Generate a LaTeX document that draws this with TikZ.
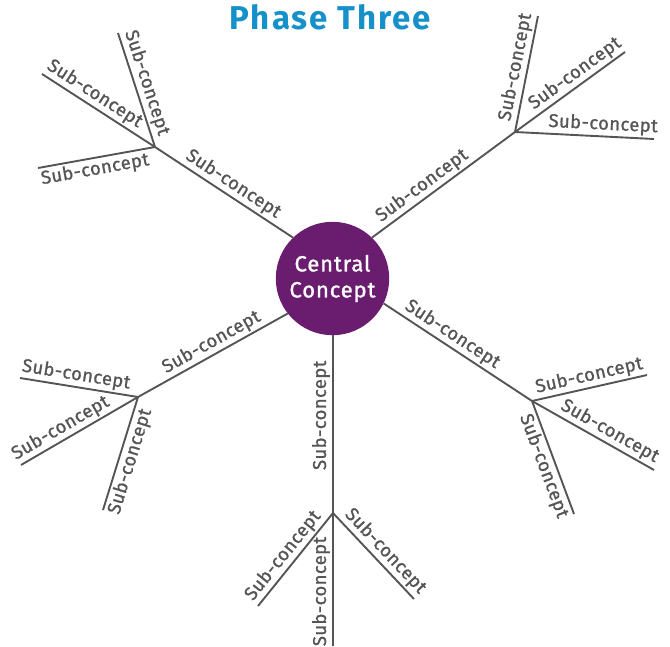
\documentclass[tikz,border=0pt]{standalone}
\usepackage{fontspec}
\setmainfont{Fira Sans}
\newfontfamily\labfont[FakeBold=1.0,LetterSpace=2]{Fira Sans}
\newfontfamily\ccfont[FakeBold=1.2,LetterSpace=4]{Fira Sans}
\newfontfamily\ttlfont[LetterSpace=6]{Fira Sans}
\definecolor{lineg}{HTML}{555555}
\definecolor{purp}{HTML}{6A1D6F}
\definecolor{titleblue}{HTML}{1690C8}
\begin{document}
\begin{tikzpicture}[x=1pt,y=-1pt,
  branch/.style={draw=lineg, line width=1.9pt},
  vbranch/.style={draw=lineg, line width=2.2pt},
  lab/.style={font=\labfont\fontsize{18.5}{22}\selectfont, text=lineg, sloped, inner sep=2pt}]
\useasboundingbox (0,0) rectangle (670,646);
\node[anchor=base, font=\ttlfont\bfseries\fontsize{33}{36}\selectfont, text=titleblue] (title) at (330.5,29) {Phase Three};
\node[circle, fill=purp, minimum size=113.4pt, inner sep=0pt, align=center, text=white,
      font=\ccfont\fontsize{22}{26}\selectfont] (cc) at (332.5,278.5) {Central\\Concept};
% hubs
\coordinate (h1) at (155,147);
\coordinate (h2) at (515,132);
\coordinate (h3) at (138,397);
\coordinate (h4) at (333,513);
\coordinate (h5) at (532,401);
% ends
\coordinate (e1a) at (118,33);  \coordinate (e1b) at (42,74);   \coordinate (e1c) at (38,168);
\coordinate (e2a) at (538,16);  \coordinate (e2b) at (625,52);  \coordinate (e2c) at (654,139);
\coordinate (e3a) at (20,378);  \coordinate (e3b) at (21,465);  \coordinate (e3c) at (103,510);
\coordinate (e4a) at (258,606); \coordinate (e4b) at (333,646); \coordinate (e4c) at (414,599);
\coordinate (e5a) at (647,375); \coordinate (e5b) at (654,470); \coordinate (e5c) at (574,514);
% main branches
\draw[branch] (h1) -- (cc.134) node[lab,pos=.52,above]{Sub-concept};
\draw[branch] (cc.46) -- (h2) node[lab,pos=.40,above]{Sub-concept};
\draw[branch] (h3) -- (cc.218) node[lab,pos=.53,above]{Sub-concept};
\draw[vbranch] (h4) -- (h4 |- cc.south) node[lab,allow upside down,pos=.55,above]{Sub-concept};
\draw[branch] (cc.-26) -- (h5) node[lab,pos=.42,above]{Sub-concept};
% sub branches
\draw[branch] (e1a) -- (h1) node[lab,pos=.47,above]{Sub-concept};
\draw[branch] (e1b) -- (h1) node[lab,pos=.41,above]{Sub-concept};
\draw[branch] (e1c) -- (h1) node[lab,pos=.47,below]{Sub-concept};
\draw[branch] (h2) -- (e2a) node[lab,pos=.54,above]{Sub-concept};
\draw[branch] (h2) -- (e2b) node[lab,pos=.61,above]{Sub-concept};
\draw[branch] (h2) -- (e2c) node[lab,pos=.63,above]{Sub-concept};
\draw[branch] (e3a) -- (h3) node[lab,pos=.46,above]{Sub-concept};
\draw[branch] (e3b) -- (h3) node[lab,pos=.39,above]{Sub-concept};
\draw[branch] (e3c) -- (h3) node[lab,pos=.46,below]{Sub-concept};
\draw[branch] (e4a) -- (h4) node[lab,pos=.46,above]{Sub-concept};
\draw[vbranch] (e4b) -- (h4) node[lab,allow upside down,pos=.41,above]{Sub-concept};
\draw[branch] (h4) -- (e4c) node[lab,pos=.54,above]{Sub-concept};
\draw[branch] (h5) -- (e5a) node[lab,pos=.52,above]{Sub-concept};
\draw[branch] (h5) -- (e5b) node[lab,pos=.59,above]{Sub-concept};
\draw[branch] (h5) -- (e5c) node[lab,pos=.54,below]{Sub-concept};
\end{tikzpicture}
\end{document}
